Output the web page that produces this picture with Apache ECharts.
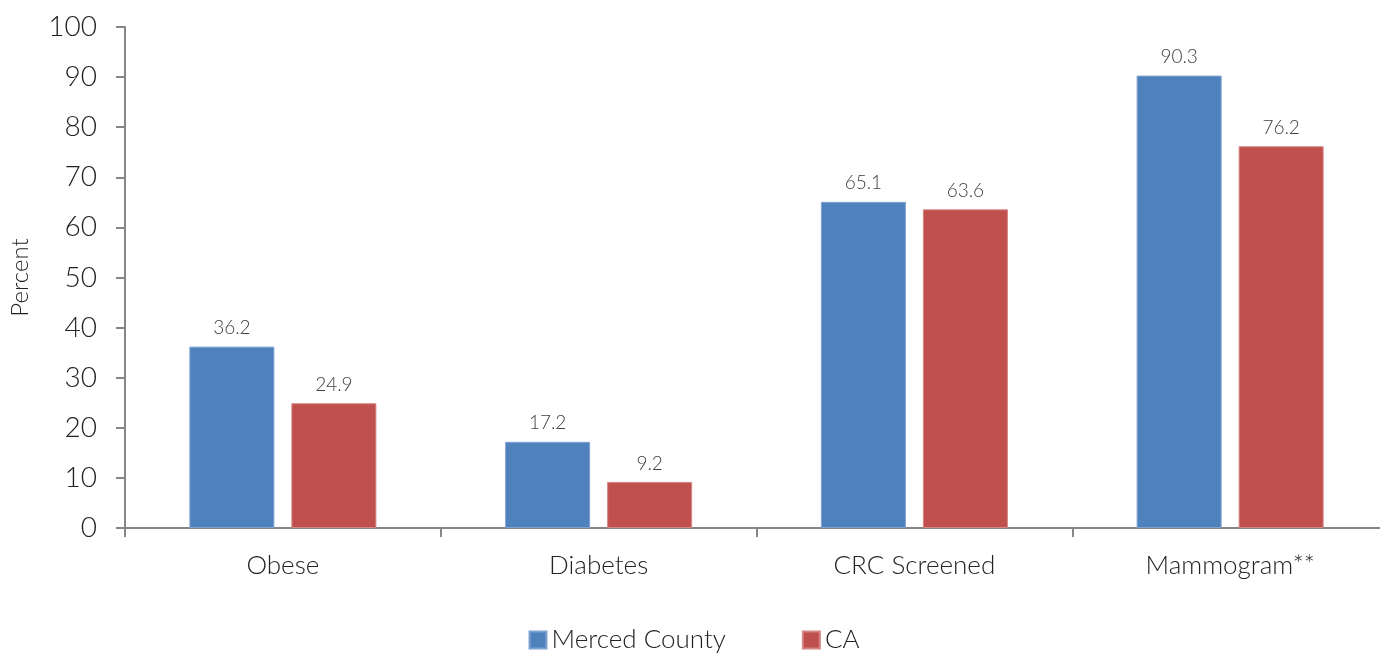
<!DOCTYPE html>
<html><head><meta charset="utf-8">
<script src="https://cdn.jsdelivr.net/npm/echarts@6/dist/echarts.min.js"></script>
<style>html,body{margin:0;padding:0;background:#fff;overflow:hidden}#c{width:1388px;height:654px}</style>
</head><body><div id="c"></div>
<script>
const categories = ['Obese', 'Diabetes', 'CRC Screened', 'Mammogram**'];
const mercedCounty = [36.2, 17.2, 65.1, 90.3];
const california = [24.9, 9.2, 63.6, 76.2];
const seriesNames = ['Merced County', 'CA'];

const FONT = 'Lato';
const W = 300;
const chart = echarts.init(document.getElementById('c'));
const labelStyle = {show: true, position: 'top', distance: 9, fontFamily: FONT, fontWeight: W, fontSize: 19, color: '#404040'};
chart.setOption({
  animation: false,
  textStyle: {fontFamily: FONT},
  grid: {left: 125, right: 0, top: 27, bottom: 126},
  legend: {
    bottom: -4, left: 'center', itemWidth: 17, itemHeight: 17, itemGap: 76, icon: 'rect',
    textStyle: {fontFamily: FONT, fontWeight: W, fontSize: 26, color: '#222'},
    data: seriesNames
  },
  xAxis: {
    type: 'category', data: categories,
    axisLine: {lineStyle: {color: '#868686', width: 2}},
    axisTick: {show: true, length: 9, lineStyle: {color: '#868686', width: 2}},
    axisLabel: {fontFamily: FONT, fontWeight: W, fontSize: 26, color: '#222', margin: 25}
  },
  yAxis: {
    type: 'value', min: 0, max: 100, interval: 10,
    name: 'Percent', nameLocation: 'middle', nameGap: 93,
    nameTextStyle: {fontFamily: FONT, fontWeight: W, fontSize: 24, color: '#222'},
    axisLine: {show: true, lineStyle: {color: '#868686', width: 2}},
    axisTick: {show: true, length: 9, lineStyle: {color: '#868686', width: 2}},
    splitLine: {show: false},
    axisLabel: {fontFamily: FONT, fontWeight: W, fontSize: 28, color: '#222', margin: 28}
  },
  series: [
    {name: seriesNames[0], type: 'bar', data: mercedCounty, barWidth: 85, barGap: '20%',
     itemStyle: {color: '#4F81BD', borderColor: '#7fa2d0', borderWidth: 1}, label: labelStyle},
    {name: seriesNames[1], type: 'bar', data: california, barWidth: 85,
     itemStyle: {color: '#C0504D', borderColor: '#d48684', borderWidth: 1}, label: labelStyle}
  ]
});
</script></body></html>
